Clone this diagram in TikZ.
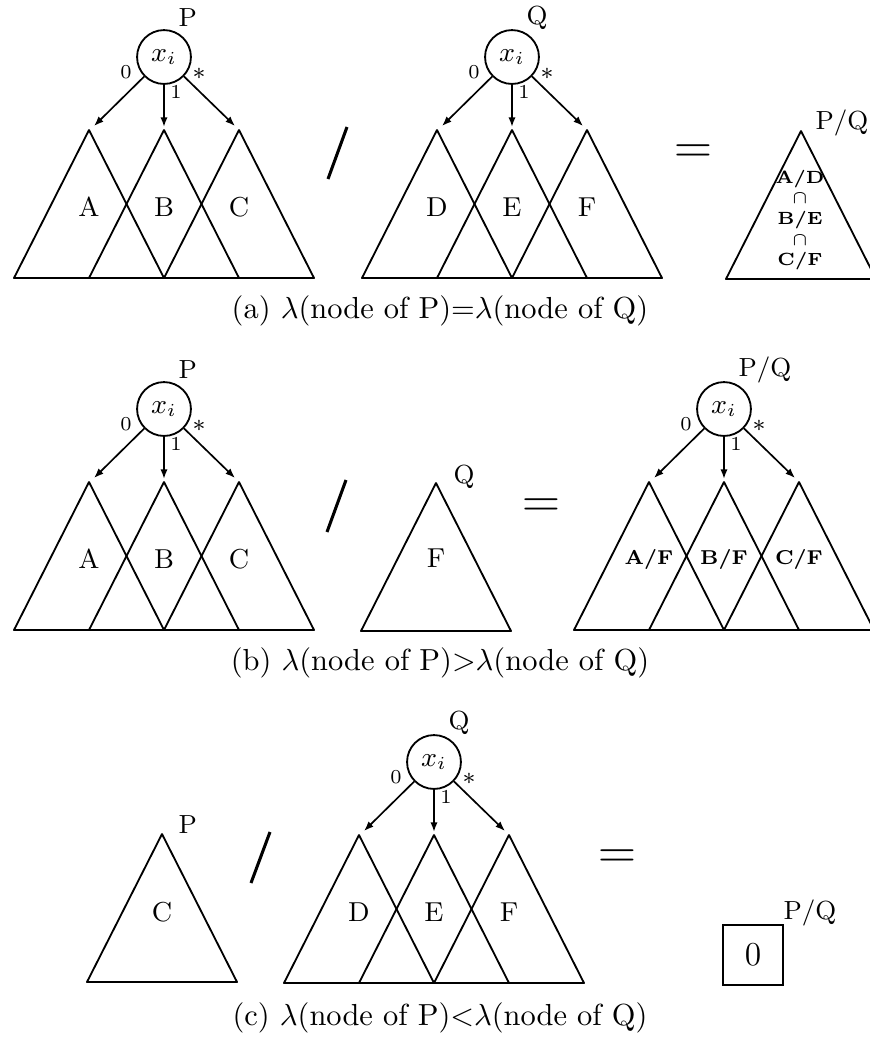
\documentclass[tikz,border=0pt]{standalone}
\usetikzlibrary{arrows.meta}
\newcommand{\resfont}{\fontsize{5.8}{6.8}\selectfont\bfseries}
\newcommand{\resbfont}{\fontsize{6.6}{7.5}\selectfont\bfseries}
\newcommand{\tritree}[6]{%
\begin{scope}[shift={#2}]
\node[var] (#1) at (0,0) {$x_i$};
\node[toplab] (#1-lab) at (14,-39) {#3};
\coordinate (#1-l) at (-75,73);
\coordinate (#1-m) at (0,73);
\coordinate (#1-r) at (75,73);
\foreach \t in {l,m,r} \draw[tri] (#1-\t) -- ++(-75,148) -- ++(150,0) -- cycle;
\node[sub] (#1-sl) at (-75,150) {#4};
\node[sub] (#1-sm) at (0,150) {#5};
\node[sub] (#1-sr) at (75,150) {#6};
\coordinate (#1-tl) at (-70,69);
\coordinate (#1-tm) at (0,70);
\coordinate (#1-tr) at (71,69);
\draw[arr] (#1) -- (#1-tl);
\draw[arr] (#1) -- (#1-tm);
\draw[arr] (#1) -- (#1-tr);
\node[elab] (#1-e0) at (-38,15) {0};
\node[elab] (#1-e1) at (12,35) {1};
\node[elab,font=\fontsize{8}{8}\selectfont] (#1-e2) at (35,17) {$*$};
\end{scope}}
\begin{document}
\begin{tikzpicture}[x=0.3285pt,y=-0.3285pt,
  var/.style={circle,draw,line width=0.6pt,minimum size=17.7pt,inner sep=0pt,font=\fontsize{9}{10}\selectfont},
  toplab/.style={anchor=west,inner sep=0pt,font=\fontsize{8.6}{10}\selectfont},
  sub/.style={font=\fontsize{9}{10}\selectfont},
  elab/.style={inner sep=0pt,font=\fontsize{6.5}{7}\selectfont},
  tri/.style={line width=0.6pt,line join=round},
  arr/.style={line width=0.55pt,-{Latex[length=3.2pt,width=2.4pt]}},
  slash/.style={line width=1pt},
  eq/.style={font=\fontsize{18.5}{18}\selectfont},
  zero/.style={draw,line width=0.6pt,minimum size=19.7pt,inner sep=0pt,font=\fontsize{11}{12}\selectfont},
  captext/.style={font=\fontsize{10}{12}\selectfont}]
\useasboundingbox (0,0) rectangle (869,1038);
% (a)
\tritree{pa}{(164,57)}{P}{A}{B}{C}
\draw[slash] (328,179) -- (347,127);
\tritree{qa}{(512,57)}{Q}{D}{E}{F}
\node[eq] (eqa) at (693,154) {$=$};
\coordinate (ra) at (801,131);
\draw[tri] (ra) -- ++(-75,148) -- ++(150,0) -- cycle;
\node[toplab] (ra-lab) at (815,123) {P/Q};
\node[align=center,font=\resfont] (ra-in) at (800,220) {A/D\\$\cap$\\B/E\\$\cap$\\C/F};
\node[captext] (capa) at (440,311) {(a) $\lambda$(node of P)${=}\lambda$(node of Q)};
% (b)
\tritree{pb}{(164,409)}{P}{A}{B}{C}
\draw[slash] (327,532) -- (346,480);
\coordinate (qb) at (436,483);
\draw[tri] (qb) -- ++(-75,148) -- ++(150,0) -- cycle;
\node[toplab] (qb-lab) at (453,477) {Q};
\node[sub] (qb-in) at (436,558) {F};
\node[eq] (eqb) at (541,508) {$=$};
\tritree{rb}{(724,409)}{P/Q}{\resbfont A/F}{\resbfont B/F}{\resbfont C/F}
\node[captext] (capb) at (440,663) {(b) $\lambda$(node of P)${>}\lambda$(node of Q)};
% (c)
\coordinate (pc) at (162,834);
\draw[tri] (pc) -- ++(-75,148) -- ++(150,0) -- cycle;
\node[toplab] (pc-lab) at (178,825) {P};
\node[sub] (pc-in) at (162,912) {C};
\draw[slash] (251,883) -- (270,832);
\tritree{qc}{(434,762)}{Q}{D}{E}{F}
\node[eq] (eqc) at (617,859) {$=$};
\node[zero] (zc) at (753,955) {0};
\node[toplab] (zc-lab) at (783,913) {P/Q};
\node[captext] (capc) at (440,1018) {(c) $\lambda$(node of P)${<}\lambda$(node of Q)};
\end{tikzpicture}
\end{document}
